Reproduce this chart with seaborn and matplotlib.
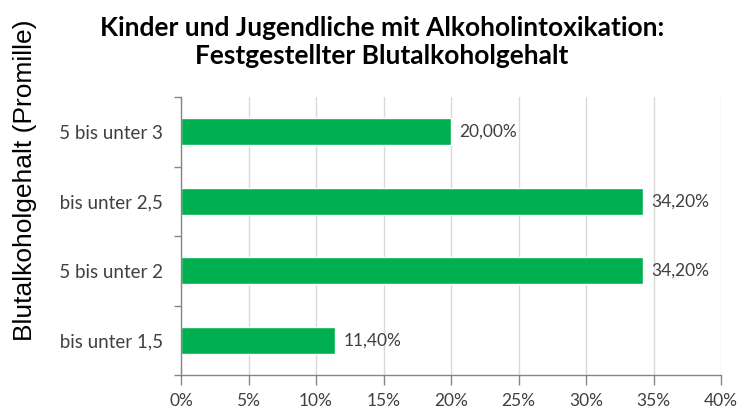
import matplotlib
matplotlib.use("Agg")
import matplotlib.pyplot as plt
import seaborn as sns
import pandas as pd
from matplotlib.patches import Rectangle
from matplotlib.ticker import MultipleLocator, FuncFormatter

categories = ["2,5 bis unter 3", "2 bis unter 2,5", "1,5 bis unter 2", "1 bis unter 1,5"]
values = [20.0, 34.2, 34.2, 11.4]
value_labels = ["20,00%", "34,20%", "34,20%", "11,40%"]
title = "Kinder und Jugendliche mit Alkoholintoxikation:\nFestgestellter Blutalkoholgehalt"
ylabel = "Blutalkoholgehalt (Promille)"

sns.set_theme(style="white")
plt.rcParams["font.family"] = ["Lato", "DejaVu Sans"]

df = pd.DataFrame({"cat": categories, "val": values})

fig = plt.figure(figsize=(7.42, 4.12), dpi=100)
W, H = 742, 412
ax = fig.add_axes([181 / W, 1 - 375 / H, (721 - 181) / W, (375 - 97) / H])

sns.barplot(data=df, x="val", y="cat", order=categories, color="#00B050",
            width=0.39, ax=ax, saturation=1)

ax.set_xlim(0, 40)
ax.set_ylim(3.5, -0.5)
ax.xaxis.set_major_locator(MultipleLocator(5))
ax.xaxis.set_major_formatter(FuncFormatter(lambda v, p: f"{int(round(v))}%"))
ax.grid(axis="x", color="#D9D9D9", linewidth=1)
ax.set_axisbelow(True)

for s in ["top", "right"]:
    ax.spines[s].set_visible(False)
for s in ["left", "bottom"]:
    ax.spines[s].set_color("#868686")
    ax.spines[s].set_linewidth(1)

ax.tick_params(axis="x", which="major", length=7, color="#868686", width=1,
               labelsize=12.5, labelcolor="#404040", pad=6, bottom=True)
ax.tick_params(axis="y", which="major", length=0, labelsize=13.5,
               labelcolor="#404040", pad=13)
ax.set_yticks([-0.5, 0.5, 1.5, 2.5, 3.5], minor=True)
ax.tick_params(axis="y", which="minor", length=5, color="#868686", width=1, left=True)
ax.set_xlabel("")
ax.set_ylabel("")

# clip category labels as in the reference
clip = Rectangle((60, 0), 200, H, transform=None)
for lbl in ax.get_yticklabels():
    lbl.set_clip_path(clip)
    lbl.set_clip_on(True)

for i, (v, t) in enumerate(zip(values, value_labels)):
    ax.annotate(t, xy=(v, i), xytext=(6, 0), textcoords="offset points",
                ha="left", va="center", fontsize=12.5, color="#404040")

fig.text(382 / W, 1 - 42 / H, title, ha="center", va="center", fontsize=19,
         fontweight="bold", color="black", linespacing=1.15)

fig.text(25 / W, 1 - 341 / H, ylabel, rotation=90, ha="center", va="bottom",
         fontsize=19, color="black", family=["Liberation Sans", "DejaVu Sans"])

fig.savefig("out.png", dpi=100)
